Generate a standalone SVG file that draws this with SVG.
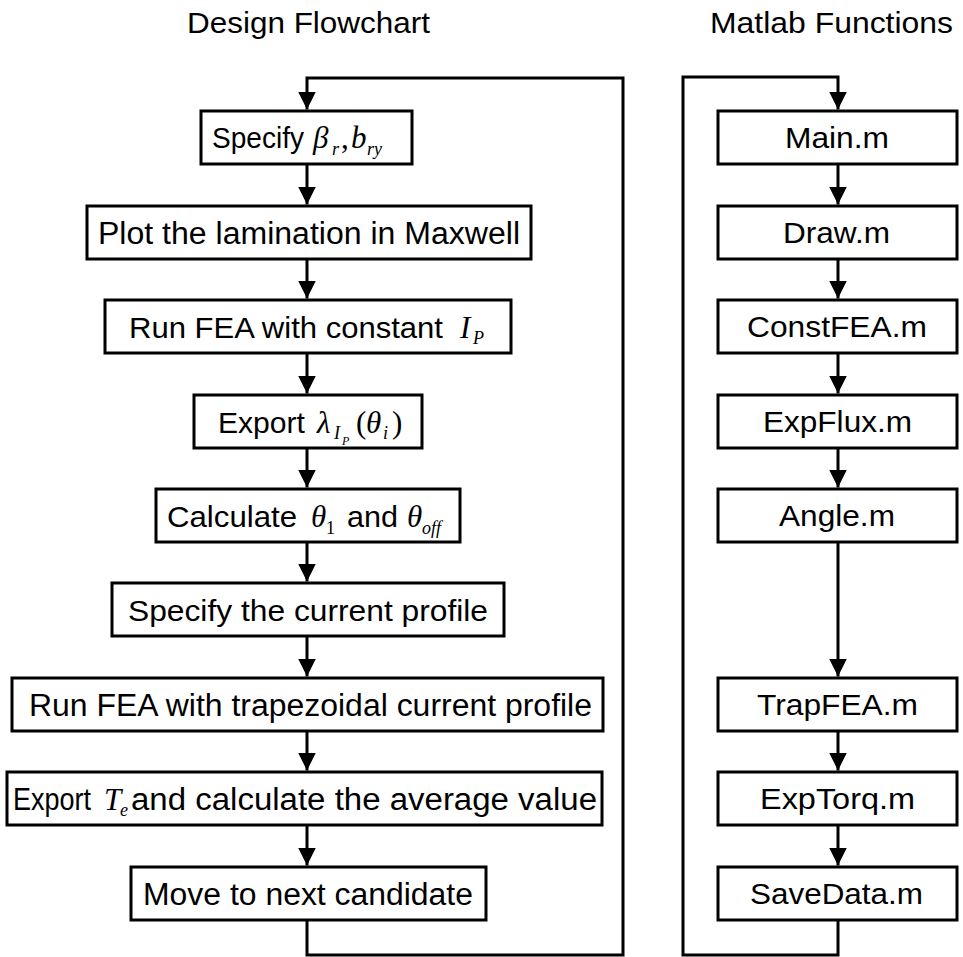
<svg xmlns="http://www.w3.org/2000/svg" width="963" height="957" viewBox="0 0 963 957">
  <style>
    .box { fill: #ffffff; stroke: #000000; stroke-width: 3; }
    .wire { fill: none; stroke: #000000; stroke-width: 3; }
    .lbl { font-family: "Liberation Sans", Arial, sans-serif; font-size: 29px; fill: #000000; }
    .nar { font-family: "Liberation Sans", Arial, sans-serif; font-size: 31px; fill: #000000; }
    .ttl { font-family: "Liberation Sans", Arial, sans-serif; font-size: 29px; fill: #000000; }
    .m { font-family: "Liberation Serif", "Times New Roman", serif; font-style: italic; font-size: 31px; fill: #000000; }
    .mu { font-family: "Liberation Serif", "Times New Roman", serif; font-size: 31px; fill: #000000; }
    .s { font-family: "Liberation Serif", "Times New Roman", serif; font-style: italic; font-size: 18px; fill: #000000; }
    .su { font-family: "Liberation Serif", "Times New Roman", serif; font-size: 18px; fill: #000000; }
    .ss { font-family: "Liberation Serif", "Times New Roman", serif; font-style: italic; font-size: 12px; fill: #000000; }
  </style>
  <defs>
    <marker id="arrow" markerUnits="userSpaceOnUse" markerWidth="18" markerHeight="18" refX="18" refY="9" orient="auto">
      <path d="M0,0 L18,9 L0,18 Z" fill="#000000"/>
    </marker>
  </defs>

  <rect width="963" height="957" fill="#ffffff"/>

  <!-- column headings -->
  <text class="ttl" x="187" y="33" textLength="243" lengthAdjust="spacingAndGlyphs">Design Flowchart</text>
  <text class="ttl" x="710" y="33" textLength="243" lengthAdjust="spacingAndGlyphs">Matlab Functions</text>

  <!-- connectors -->
  <g id="connectors">
    <!-- design flow, centre x = 307 -->
    <path class="wire" d="M307,920 V955 H623 V78 H307 V109.5" marker-end="url(#arrow)"/>
    <line class="wire" x1="307" y1="164" x2="307" y2="204.5" marker-end="url(#arrow)"/>
    <line class="wire" x1="307" y1="259" x2="307" y2="298.5" marker-end="url(#arrow)"/>
    <line class="wire" x1="307" y1="353" x2="307" y2="393.5" marker-end="url(#arrow)"/>
    <line class="wire" x1="307" y1="448" x2="307" y2="487.5" marker-end="url(#arrow)"/>
    <line class="wire" x1="307" y1="542" x2="307" y2="581.5" marker-end="url(#arrow)"/>
    <line class="wire" x1="307" y1="636" x2="307" y2="676.5" marker-end="url(#arrow)"/>
    <line class="wire" x1="307" y1="731" x2="307" y2="770.5" marker-end="url(#arrow)"/>
    <line class="wire" x1="307" y1="825" x2="307" y2="865.5" marker-end="url(#arrow)"/>
    <!-- matlab functions, centre x = 838 -->
    <path class="wire" d="M838,920 V955 H683 V77 H838 V109.5" marker-end="url(#arrow)"/>
    <line class="wire" x1="838" y1="164" x2="838" y2="204.5" marker-end="url(#arrow)"/>
    <line class="wire" x1="838" y1="259" x2="838" y2="298.5" marker-end="url(#arrow)"/>
    <line class="wire" x1="838" y1="353" x2="838" y2="393.5" marker-end="url(#arrow)"/>
    <line class="wire" x1="838" y1="448" x2="838" y2="487.5" marker-end="url(#arrow)"/>
    <line class="wire" x1="838" y1="542" x2="838" y2="676.5" marker-end="url(#arrow)"/>
    <line class="wire" x1="838" y1="731" x2="838" y2="770.5" marker-end="url(#arrow)"/>
    <line class="wire" x1="838" y1="825" x2="838" y2="865.5" marker-end="url(#arrow)"/>
  </g>

  <!-- design flowchart steps -->
  <g id="specify-params">
    <rect class="box" x="201" y="111" width="211" height="53"/>
    <text class="lbl" x="212" y="148" textLength="92" lengthAdjust="spacingAndGlyphs">Specify</text>
    <text class="m" x="313" y="148">β</text>
    <text class="s" x="332" y="155">r</text>
    <text class="mu" x="341" y="148">,</text>
    <text class="m" x="351" y="148">b</text>
    <text class="s" x="367" y="155">ry</text>
  </g>
  <g id="plot-lamination">
    <rect class="box" x="87" y="206" width="444" height="53"/>
    <text class="nar" x="98" y="244" textLength="422" lengthAdjust="spacingAndGlyphs">Plot the lamination in Maxwell</text>
  </g>
  <g id="fea-constant">
    <rect class="box" x="105" y="300" width="406" height="53"/>
    <text class="lbl" x="129" y="338" textLength="314" lengthAdjust="spacingAndGlyphs">Run FEA with constant</text>
    <text class="m" x="460" y="338">I</text>
    <text class="s" x="473" y="344">P</text>
  </g>
  <g id="export-flux">
    <rect class="box" x="194" y="395" width="228" height="53"/>
    <text class="lbl" x="218" y="433" textLength="87" lengthAdjust="spacingAndGlyphs">Export</text>
    <text class="m" x="317" y="433">λ</text>
    <text class="s" x="334" y="439">I</text>
    <text class="ss" x="342" y="445">P</text>
    <text class="mu" x="356" y="433">(</text>
    <text class="m" x="366" y="433">θ</text>
    <text class="s" x="383" y="439">i</text>
    <text class="mu" x="392" y="433">)</text>
  </g>
  <g id="calc-angles">
    <rect class="box" x="156" y="489" width="304" height="53"/>
    <text class="lbl" x="167" y="527" textLength="130" lengthAdjust="spacingAndGlyphs">Calculate</text>
    <text class="m" x="311" y="527">θ</text>
    <text class="su" x="326" y="534">1</text>
    <text class="lbl" x="347" y="527" textLength="51" lengthAdjust="spacingAndGlyphs">and</text>
    <text class="m" x="407" y="527">θ</text>
    <text class="s" x="422" y="534">off</text>
  </g>
  <g id="current-profile">
    <rect class="box" x="112" y="583" width="392" height="53"/>
    <text class="lbl" x="128" y="621" textLength="360" lengthAdjust="spacingAndGlyphs">Specify the current profile</text>
  </g>
  <g id="fea-trapezoidal">
    <rect class="box" x="12" y="678" width="591" height="53"/>
    <text class="nar" x="29" y="716" textLength="563" lengthAdjust="spacingAndGlyphs">Run FEA with trapezoidal current profile</text>
  </g>
  <g id="export-torque">
    <rect class="box" x="7" y="772" width="595" height="53"/>
    <text class="nar" x="13" y="810" textLength="78" lengthAdjust="spacingAndGlyphs">Export</text>
    <text class="m" x="104" y="810">T</text>
    <text class="s" x="120" y="816">e</text>
    <text class="nar" x="131" y="810" textLength="466" lengthAdjust="spacingAndGlyphs">and calculate the average value</text>
  </g>
  <g id="next-candidate">
    <rect class="box" x="131" y="867" width="355" height="53"/>
    <text class="nar" x="143" y="905" textLength="330" lengthAdjust="spacingAndGlyphs">Move to next candidate</text>
  </g>

  <!-- matlab function files -->
  <g id="main-m">
    <rect class="box" x="718" y="111" width="239" height="53"/>
    <text class="lbl" x="785" y="148" textLength="104" lengthAdjust="spacingAndGlyphs">Main.m</text>
  </g>
  <g id="draw-m">
    <rect class="box" x="718" y="206" width="239" height="53"/>
    <text class="lbl" x="783" y="243" textLength="107" lengthAdjust="spacingAndGlyphs">Draw.m</text>
  </g>
  <g id="constfea-m">
    <rect class="box" x="718" y="300" width="239" height="53"/>
    <text class="lbl" x="747" y="337" textLength="180" lengthAdjust="spacingAndGlyphs">ConstFEA.m</text>
  </g>
  <g id="expflux-m">
    <rect class="box" x="718" y="395" width="239" height="53"/>
    <text class="lbl" x="763" y="432" textLength="149" lengthAdjust="spacingAndGlyphs">ExpFlux.m</text>
  </g>
  <g id="angle-m">
    <rect class="box" x="718" y="489" width="239" height="53"/>
    <text class="lbl" x="779" y="526" textLength="116" lengthAdjust="spacingAndGlyphs">Angle.m</text>
  </g>
  <g id="trapfea-m">
    <rect class="box" x="718" y="678" width="239" height="53"/>
    <text class="lbl" x="757" y="715" textLength="161" lengthAdjust="spacingAndGlyphs">TrapFEA.m</text>
  </g>
  <g id="exptorq-m">
    <rect class="box" x="718" y="772" width="239" height="53"/>
    <text class="lbl" x="760" y="809" textLength="155" lengthAdjust="spacingAndGlyphs">ExpTorq.m</text>
  </g>
  <g id="savedata-m">
    <rect class="box" x="718" y="867" width="239" height="53"/>
    <text class="lbl" x="750" y="904" textLength="173" lengthAdjust="spacingAndGlyphs">SaveData.m</text>
  </g>
</svg>
